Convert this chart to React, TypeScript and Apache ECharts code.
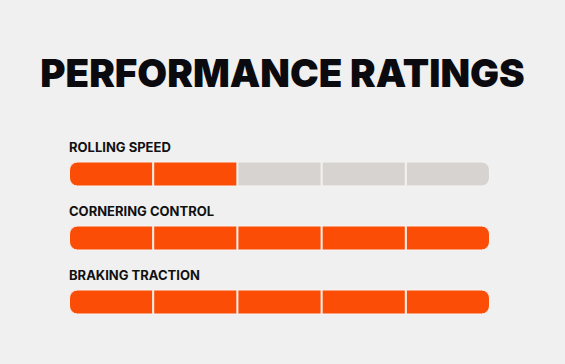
import React, { useEffect, useRef } from "react";
import * as echarts from "echarts";

const title = "PERFORMANCE RATINGS";
const categories = ["ROLLING SPEED", "CORNERING CONTROL", "BRAKING TRACTION"];
const ratings = [2, 5, 5];
const maxRating = 5;
const segmentNames = ["1", "2", "3", "4", "5"];

const ORANGE = "#fb4d06";
const GRAY = "#d6d3d1";

export default function App() {
  const ref = useRef<HTMLDivElement>(null);
  useEffect(() => {
    document.body.style.margin = "0";
    const chart = echarts.init(ref.current!, null, { renderer: "svg" });
    const series = segmentNames.map((name, si) => ({
      type: "bar",
      name,
      stack: "rating",
      barWidth: 25,
      data: categories.map((cat, ci) => ({
        value: 1,
        itemStyle: {
          color: si < ratings[ci] ? ORANGE : GRAY,
          borderColor: "#f6f3f0",
          borderWidth: 1,
          borderRadius:
            si === 0 ? [8, 0, 0, 8] : si === maxRating - 1 ? [0, 8, 8, 0] : 0,
        },
      })),
      label:
        si === 0
          ? {
              show: true,
              position: [0, -21],
              formatter: (p: any) => p.name,
              color: "#111",
              fontFamily: "Inter",
              fontWeight: 700,
              fontSize: 13,
            }
          : { show: false },
      emphasis: { disabled: true },
    }));
    chart.setOption({
      animation: false,
      backgroundColor: "#f0f0f0",
      title: {
        text: title,
        left: "center",
        top: 48,
        textStyle: {
          fontFamily: "Inter",
          fontWeight: 900,
          fontSize: 38.5,
          color: "#0b0b0f",
        },
      },
      grid: { left: 69, right: 75, top: 142, bottom: 30 },
      xAxis: {
        type: "value",
        min: 0,
        max: maxRating,
        show: false,
      },
      yAxis: {
        type: "category",
        data: categories,
        inverse: true,
        show: false,
      },
      series,
    });
    return () => chart.dispose();
  }, []);
  return (
    <div
      ref={ref}
      style={{ position: "fixed", left: 0, top: 0, width: 565, height: 364 }}
    />
  );
}
